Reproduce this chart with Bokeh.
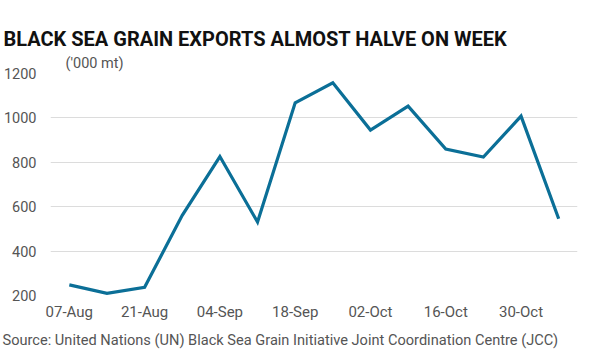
import pandas as pd
from bokeh.plotting import figure
from bokeh.models import Title, FixedTicker, DatetimeTickFormatter, Range1d
from bokeh.embed import file_html
from bokeh.resources import INLINE

dates = ["2022-08-07", "2022-08-14", "2022-08-21", "2022-08-28", "2022-09-04",
         "2022-09-11", "2022-09-18", "2022-09-25", "2022-10-02", "2022-10-09",
         "2022-10-16", "2022-10-23", "2022-10-30", "2022-11-06"]
exports = [248, 210, 237, 561, 826, 531, 1068, 1158, 945, 1053, 860, 824, 1008, 546]
tick_dates = ["2022-08-07", "2022-08-21", "2022-09-04", "2022-09-18",
              "2022-10-02", "2022-10-16", "2022-10-30"]
y_ticks = [200, 400, 600, 800, 1000, 1200]

x = pd.to_datetime(dates)
pad = pd.Timedelta(days=3.5)

p = figure(width=600, height=357, x_axis_type="datetime", output_backend="svg",
           toolbar_location=None, title=None,
           x_range=Range1d(x[0] - pad, x[-1] + pad), y_range=Range1d(200, 1200),
           min_border_left=48, min_border_right=23, min_border_top=73, min_border_bottom=62)
p.outline_line_color = None
p.background_fill_color = "white"
p.border_fill_color = "white"

p.line(x, exports, line_color="#0b6f97", line_width=3.2, line_join="miter")

p.xgrid.grid_line_color = None
p.ygrid.grid_line_color = "#dcdcdc"
p.ygrid.grid_line_width = 1.2
p.yaxis.ticker = FixedTicker(ticks=y_ticks)
p.xaxis.ticker = FixedTicker(ticks=[pd.Timestamp(d).value / 1e6 for d in tick_dates])
p.xaxis.formatter = DatetimeTickFormatter(days="%d-%b", months="%d-%b")

for ax in (p.xaxis, p.yaxis):
    ax.axis_line_color = None
    ax.major_tick_line_color = None
    ax.minor_tick_line_color = None
    ax.major_label_text_font = "Roboto"
    ax.major_label_text_color = "#555555"
p.yaxis.major_label_text_font_size = "14.5px"
p.xaxis.major_label_text_font_size = "15px"
p.yaxis.major_label_standoff = 8
p.xaxis.major_label_standoff = 1

sub = Title(text="('000 mt)", align="left", text_font="Roboto", text_font_size="14.5px",
            text_font_style="normal", text_color="#555555", offset=15, standoff=4)
p.add_layout(sub, "above")
main = Title(text="BLACK SEA GRAIN EXPORTS ALMOST HALVE ON WEEK", align="left",
             text_font="Roboto", text_font_size="20px", text_font_style="bold",
             text_color="#111111", offset=-47, standoff=0)
p.add_layout(main, "above")
src = Title(text="Source: United Nations (UN) Black Sea Grain Initiative Joint Coordination Centre (JCC)",
            align="left", text_font="Roboto", text_font_size="14.6px", text_font_style="normal",
            text_color="#555555", offset=-48)
p.add_layout(src, "below")

open("out.html", "w").write(file_html(p, INLINE))
